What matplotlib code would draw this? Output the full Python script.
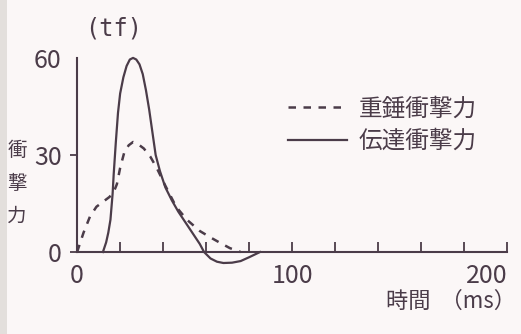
import matplotlib
matplotlib.use("Agg")
import matplotlib.pyplot as plt
from matplotlib.patches import Rectangle
from matplotlib.ticker import FixedLocator

plt.rcParams["font.family"] = ["Noto Sans CJK JP", "DejaVu Sans"]

# 重錘衝撃力 (dashed)
t_weight = [0, 1.5, 3, 6, 9, 12, 15, 17, 18.5, 20, 22, 24, 26, 28, 31, 34, 37, 41, 46, 51, 57, 62, 66, 71, 76]
f_weight = [0, 3, 6, 11, 14, 15.5, 17, 18.5, 21, 26, 31, 33, 34, 33.5, 32, 29.5, 26, 20.5, 14, 10, 6.5, 4.5, 3, 1.2, 0]

# 伝達衝撃力 (solid)
t_trans = [12, 13.5, 14.5, 15.5, 16, 16.5, 17, 18, 19, 20, 21.5, 23, 24.5, 26, 27.5, 29, 30.5, 32, 33.5, 35, 36.5,
           38.5, 41, 44, 47, 50, 53, 57, 59, 62, 65, 68, 72, 76, 80, 85]
f_trans = [0, 3, 6, 10, 14, 18, 24, 34, 43, 49, 54, 57.5, 59.5, 60, 59.5, 58, 55, 50, 44, 37, 30,
           25, 20, 16, 12.5, 9.5, 6.5, 2.5, 0, -2, -3, -3.4, -3.3, -2.8, -1.6, 0]

x_labeled = [0, 100, 200]
x_ticks = [0, 20, 40, 60, 80, 100, 120, 140, 160, 180, 200]
y_ticks = [0, 30, 60]

ink = "#4b3c49"

fig = plt.figure(figsize=(5.21, 3.34), dpi=100)
fig.patch.set_facecolor("#fbf7f7")
fig.patches.append(Rectangle((0, 0), 0.013, 1, transform=fig.transFigure,
                             facecolor="#e3dfdc", edgecolor="none"))
ax = fig.add_axes([0.148, 0.168, 0.826, 0.678])
ax.set_facecolor("none")

ax.plot(t_weight, f_weight, color=ink, lw=1.8, ls=(0, (3.0, 3.0)), label="重錘衝撃力")
ax.plot(t_trans, f_trans, color=ink, lw=1.6, label="伝達衝撃力")

ax.set_xlim(0, 200)
ax.set_ylim(-8, 62)

for s in ["top", "right"]:
    ax.spines[s].set_visible(False)
ax.spines["bottom"].set_position(("data", 0))
ax.spines["bottom"].set_bounds(0, 200)
ax.spines["left"].set_bounds(0, 60)
for s in ["bottom", "left"]:
    ax.spines[s].set_color(ink)
    ax.spines[s].set_linewidth(1.5)

ax.xaxis.set_major_locator(FixedLocator(x_labeled))
ax.xaxis.set_minor_locator(FixedLocator(x_ticks))
ax.tick_params(axis="x", which="both", direction="in", length=7, width=1.3, color=ink,
               labelsize=18, labelcolor=ink, pad=8)
ax.set_yticks(y_ticks)
ax.yaxis.set_minor_locator(FixedLocator([60]))
ax.tick_params(axis="y", which="major", direction="out", length=5, width=1.3, color=ink,
               labelsize=18, labelcolor=ink, pad=6)
ax.tick_params(axis="y", which="minor", direction="in", length=6, width=1.3, color=ink)
ax.yaxis.get_major_ticks()[2].tick1line.set_visible(False)
ax.xaxis.get_major_ticks()[0].tick1line.set_visible(False)
ax.get_xticklabels()[2].set_horizontalalignment("right")
ax.get_xticklabels()[2].set_x(203)

leg = ax.legend(loc="upper left", bbox_to_anchor=(0.44, 0.89), frameon=False,
                handlelength=2.5, handletextpad=0.5, labelspacing=0.4,
                prop={"size": 17})
for txt in leg.get_texts():
    txt.set_color(ink)

fig.text(0.219, 0.915, "(tf)", ha="center", va="center", fontsize=17, color=ink,
         family=["DejaVu Sans Mono", "DejaVu Sans"])
fig.text(0.033, 0.45, "衝\n撃\n力", ha="center", va="center", fontsize=14, color=ink,
         linespacing=1.75)
fig.text(0.865, 0.098, "時間  （ms）", ha="center", va="center", fontsize=16, color=ink)

fig.savefig("out.png", dpi=100)
